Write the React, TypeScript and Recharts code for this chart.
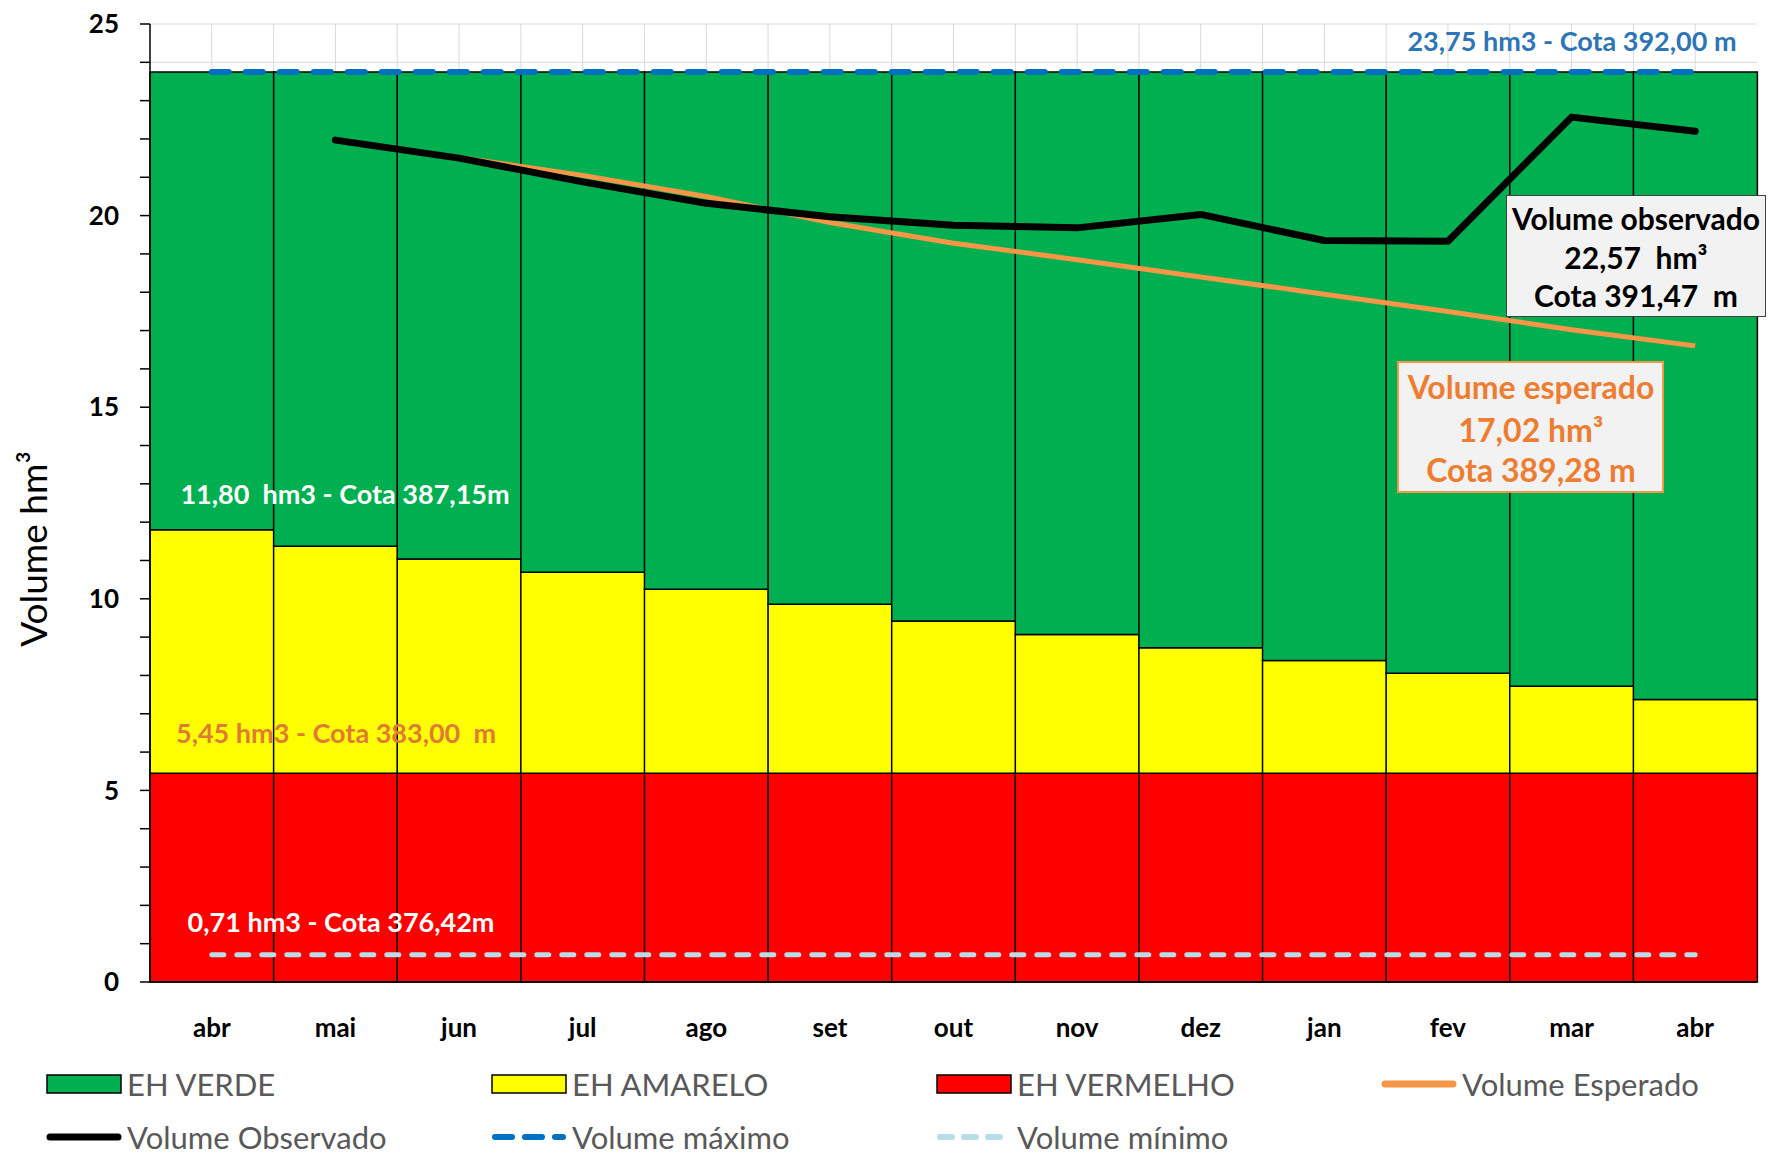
import { Bar, CartesianGrid, ComposedChart, Line, XAxis, YAxis } from "recharts";
import type { CSSProperties, ReactNode } from "react";

// meses do ciclo (abr a abr)
const meses = ["abr", "mai", "jun", "jul", "ago", "set", "out", "nov", "dez", "jan", "fev", "mar", "abr"];

// limites dos estados hidrológicos (hm3)
const limiteVermelho = [5.45, 5.45, 5.45, 5.45, 5.45, 5.45, 5.45, 5.45, 5.45, 5.45, 5.45, 5.45, 5.45];
const limiteAmarelo = [11.8, 11.37, 11.04, 10.69, 10.25, 9.86, 9.42, 9.07, 8.72, 8.39, 8.06, 7.72, 7.37];
const volumeMaximo = [23.75, 23.75, 23.75, 23.75, 23.75, 23.75, 23.75, 23.75, 23.75, 23.75, 23.75, 23.75, 23.75];
const volumeMinimo = [0.71, 0.71, 0.71, 0.71, 0.71, 0.71, 0.71, 0.71, 0.71, 0.71, 0.71, 0.71, 0.71];

const volumeEsperado = [null, 21.97, 21.52, 21.05, 20.5, 19.82, 19.28, 18.85, 18.4, 17.95, 17.5, 17.02, 16.6];
const volumeObservado = [null, 21.97, 21.5, 20.88, 20.32, 19.97, 19.75, 19.68, 20.03, 19.35, 19.33, 22.57, 22.2];

const yTicks = [0, 1, 2, 3, 4, 5, 6, 7, 8, 9, 10, 11, 12, 13, 14, 15, 16, 17, 18, 19, 20, 21, 22, 23, 24, 25];

const data = meses.map((mes, i) => ({
  mes,
  vermelho: limiteVermelho[i],
  amarelo: limiteAmarelo[i] - limiteVermelho[i],
  verde: volumeMaximo[i] - limiteAmarelo[i],
  esperado: volumeEsperado[i],
  observado: volumeObservado[i],
  maximo: volumeMaximo[i],
  minimo: volumeMinimo[i],
}));

const FONT = "Lato, 'Open Sans', sans-serif";

function Tag({ x, y, style, children }: { x: number; y: number; style?: CSSProperties; children: ReactNode }) {
  return (
    <div
      style={{
        position: "absolute",
        left: x,
        top: y,
        transform: "translate(-50%, -50%)",
        whiteSpace: "pre",
        fontFamily: FONT,
        lineHeight: 1,
        ...style,
      }}
    >
      {children}
    </div>
  );
}

const legendItems = [
  { label: "EH VERDE", kind: "box", color: "#00B050", col: 0, row: 0 },
  { label: "EH AMARELO", kind: "box", color: "#FFFF00", col: 1, row: 0 },
  { label: "EH VERMELHO", kind: "box", color: "#FF0000", col: 2, row: 0 },
  { label: "Volume Esperado", kind: "line", color: "#F79646", col: 3, row: 0 },
  { label: "Volume Observado", kind: "line", color: "#000000", col: 0, row: 1 },
  { label: "Volume máximo", kind: "dash", color: "#0070C0", col: 1, row: 1 },
  { label: "Volume mínimo", kind: "dash2", color: "#B7DEE8", col: 2, row: 1 },
];

function Swatch({ kind, color }: { kind: string; color: string }) {
  if (kind === "box")
    return (
      <svg width={76} height={20}>
        <rect x={1} y={1} width={74} height={18} fill={color} stroke="#000" strokeWidth={1.5} />
      </svg>
    );
  const dash = kind === "dash" ? "17 13" : kind === "dash2" ? "12 12" : undefined;
  return (
    <svg width={76} height={20}>
      <line x1={4} y1={10} x2={72} y2={10} stroke={color} strokeWidth={kind === "line" ? 7 : 6} strokeLinecap="round" strokeDasharray={dash} />
    </svg>
  );
}

export default function App() {
  return (
    <div style={{ position: "absolute", left: 0, top: 0, width: 1768, height: 1161, background: "#fff" }}>
      <ComposedChart
        width={1768}
        height={1161}
        data={data}
        margin={{ top: 24, right: 11, bottom: 119, left: 0 }}
        barCategoryGap={0}
        barGap={0}
      >
        <CartesianGrid
          stroke="#D9D9D9"
          strokeWidth={1}
          verticalCoordinatesGenerator={({ offset }: any) =>
            Array.from({ length: 25 }, (_, k) => offset.left + ((k + 1) * offset.width) / 26)
          }
        />
        <XAxis
          dataKey="mes"
          height={60}
          tickSize={0}
          tickMargin={37}
          axisLine={{ stroke: "#000", strokeWidth: 1.5 }}
          tick={{ fill: "#000", fontSize: 26, fontWeight: 700, fontFamily: FONT }}
        />
        <YAxis
          width={150}
          domain={[0, 25]}
          ticks={yTicks}
          interval={0}
          tickSize={10}
          tickMargin={21}
          tickFormatter={(v: number) => (v % 5 === 0 ? String(v) : "")}
          axisLine={{ stroke: "#000", strokeWidth: 1.5 }}
          tickLine={{ stroke: "#000", strokeWidth: 1.5 }}
          tick={{ fill: "#000", fontSize: 26, fontWeight: 700, fontFamily: FONT }}
        />
        <Bar dataKey="vermelho" stackId="eh" fill="#FF0000" stroke="#000" strokeWidth={1.5} isAnimationActive={false} />
        <Bar dataKey="amarelo" stackId="eh" fill="#FFFF00" stroke="#000" strokeWidth={1.5} isAnimationActive={false} />
        <Bar dataKey="verde" stackId="eh" fill="#00B050" stroke="#000" strokeWidth={1.5} isAnimationActive={false} />
        <Line dataKey="esperado" type="linear" stroke="#F79646" strokeWidth={5} strokeLinejoin="round" dot={false} isAnimationActive={false} />
        <Line dataKey="observado" type="linear" stroke="#000" strokeWidth={7} strokeLinecap="round" strokeLinejoin="round" dot={false} isAnimationActive={false} />
        <Line dataKey="maximo" type="linear" stroke="#0070C0" strokeWidth={6} strokeDasharray="17 17" strokeLinecap="round" dot={false} isAnimationActive={false} />
        <Line dataKey="minimo" type="linear" stroke="#B7DEE8" strokeWidth={5} strokeDasharray="12 13" strokeLinecap="round" dot={false} isAnimationActive={false} />
      </ComposedChart>

      {/* título do eixo Y */}
      <Tag x={32} y={549} style={{ transform: "translate(-50%, -50%) rotate(-90deg)", fontSize: 37, color: "#000" }}>
        Volume hm³
      </Tag>

      {/* rótulos dos níveis */}
      <Tag x={1572} y={40} style={{ fontSize: 27, color: "#2E75B6", fontWeight: 700 }}>
        23,75 hm3 - Cota 392,00 m
      </Tag>
      <Tag x={345} y={493} style={{ fontSize: 27, color: "#FFFFFF", fontWeight: 700 }}>
        11,80  hm3 - Cota 387,15m
      </Tag>
      <Tag x={336} y={732} style={{ fontSize: 27, color: "#E07B36", fontWeight: 700 }}>
        5,45 hm3 - Cota 383,00  m
      </Tag>
      <Tag x={341} y={921} style={{ fontSize: 27, color: "#FFFFFF", fontWeight: 700 }}>
        0,71 hm3 - Cota 376,42m
      </Tag>

      {/* caixa volume observado */}
      <div
        style={{
          position: "absolute",
          left: 1506,
          top: 195,
          width: 260,
          height: 122,
          background: "#F2F2F2",
          border: "1.5px solid #404040",
          boxSizing: "border-box",
        }}
      />
      <Tag x={1636} y={218} style={{ fontSize: 30, fontWeight: 700, color: "#000" }}>Volume observado</Tag>
      <Tag x={1636} y={257} style={{ fontSize: 30, fontWeight: 700, color: "#000" }}>22,57  hm³</Tag>
      <Tag x={1636} y={295} style={{ fontSize: 30, fontWeight: 700, color: "#000" }}>Cota 391,47  m</Tag>

      {/* caixa volume esperado */}
      <div
        style={{
          position: "absolute",
          left: 1397,
          top: 361,
          width: 267,
          height: 132,
          background: "#F2F2F2",
          border: "2px solid #F79646",
          boxSizing: "border-box",
        }}
      />
      <Tag x={1531} y={387} style={{ fontSize: 32, fontWeight: 700, color: "#ED7D31" }}>Volume esperado</Tag>
      <Tag x={1531} y={430} style={{ fontSize: 32, fontWeight: 700, color: "#ED7D31" }}>17,02 hm³</Tag>
      <Tag x={1531} y={470} style={{ fontSize: 32, fontWeight: 700, color: "#ED7D31" }}>Cota 389,28 m</Tag>

      {/* legenda */}
      {legendItems.map((it) => (
        <div
          key={it.label}
          style={{
            position: "absolute",
            left: 46 + it.col * 445,
            top: 1084 + it.row * 53 - 16,
            height: 32,
            display: "flex",
            alignItems: "center",
            gap: 5,
            fontFamily: FONT,
            fontSize: 31,
            color: "#595959",
            whiteSpace: "nowrap",
          }}
        >
          <Swatch kind={it.kind} color={it.color} />
          <span>{it.label}</span>
        </div>
      ))}
    </div>
  );
}
